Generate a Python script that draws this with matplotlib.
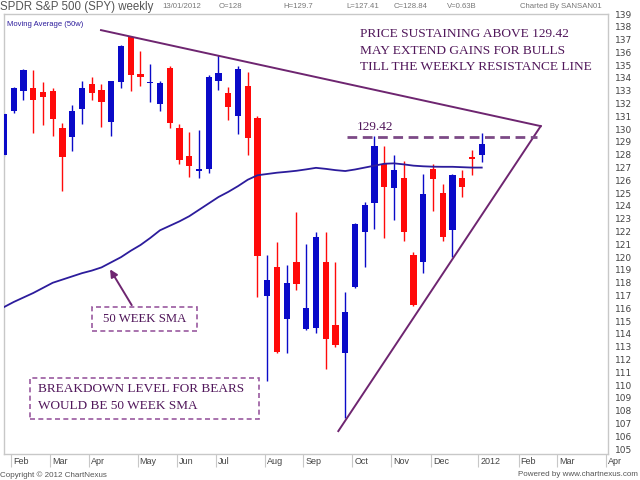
import matplotlib
matplotlib.use("Agg")
import matplotlib.pyplot as plt
from matplotlib.patches import Rectangle
import numpy as np

# weekly OHLC, SPY, Feb 2011 .. 13 Jan 2012
opens = [128.0, 131.4, 133.0, 133.2, 132.9, 133.0, 130.1, 129.4, 131.6, 133.5,
         133.1, 130.6, 133.7, 137.2, 134.3, 133.6, 132.0, 134.8, 130.1, 127.9,
         126.7, 126.9, 133.8, 132.8, 131.0, 133.4, 130.9, 117.0, 119.2, 115.2,
         119.6, 114.4, 114.5, 119.6, 114.7, 112.5, 117.7, 122.0, 124.2, 127.3,
         125.4, 126.2, 120.2, 119.6, 126.9, 125.0, 122.1, 126.2, 127.8, 128.0]
highs = [131.3, 133.3, 134.7, 134.6, 133.7, 133.2, 130.5, 131.9, 133.8, 134.1,
         133.5, 133.8, 136.6, 137.3, 136.1, 135.1, 133.8, 134.9, 130.4, 129.8,
         129.9, 134.2, 135.8, 133.3, 134.9, 134.5, 131.0, 120.2, 121.2, 119.4,
         123.5, 121.0, 122.0, 122.0, 119.6, 117.3, 122.7, 124.3, 129.5, 128.7,
         128.0, 127.5, 120.4, 126.5, 127.3, 125.7, 126.5, 126.8, 128.4, 129.7]
lows = [127.9, 131.3, 132.3, 129.7, 130.3, 129.5, 125.2, 128.3, 130.4, 132.3,
        130.2, 129.5, 133.2, 133.0, 133.4, 132.1, 131.4, 130.1, 127.3, 126.3,
        126.2, 126.6, 133.1, 130.7, 129.6, 128.0, 116.9, 110.3, 112.5, 112.5,
        117.4, 114.3, 114.05, 111.3, 113.0, 107.4, 117.6, 119.2, 122.2, 121.5,
        122.9, 121.3, 116.2, 118.8, 123.6, 121.3, 120.0, 124.7, 126.4, 127.41]
closes = [131.2, 133.2, 134.6, 132.3, 132.5, 130.8, 127.8, 131.4, 133.2, 132.8,
          132.1, 133.8, 136.5, 134.2, 134.1, 133.7, 133.6, 130.5, 127.6, 127.1,
          126.9, 134.1, 134.4, 131.7, 134.7, 129.3, 120.1, 118.2, 112.6, 118.0,
          117.9, 116.0, 121.6, 113.6, 113.1, 115.7, 122.6, 124.1, 128.7, 125.5,
          126.8, 122.0, 116.3, 124.9, 126.1, 121.6, 126.4, 125.5, 127.7, 128.84]
sma50 = [116.1, 116.5, 116.85, 117.2, 117.6, 118.0, 118.25, 118.5, 118.75, 118.95,
         119.2, 119.6, 120.0, 120.5, 120.95, 121.5, 122.1, 122.45, 122.8, 123.2,
         123.7, 124.2, 124.7, 125.1, 125.55, 126.05, 126.4, 126.5, 126.6, 126.67,
         126.75, 126.86, 126.98, 126.9, 126.8, 126.73, 126.85, 127.0, 127.15, 127.3,
         127.33, 127.25, 127.15, 127.1, 127.07, 127.06, 127.06, 127.03, 127.0, 127.0]

month_labels = ["Feb", "Mar", "Apr", "May", "Jun", "Jul", "Aug", "Sep",
                "Oct", "Nov", "Dec", "2012", "Feb", "Mar", "Apr"]
month_pos = [0.72, 4.72, 8.75, 13.72, 17.72, 21.75, 26.73, 30.7,
             35.73, 39.7, 43.8, 48.65, 52.8, 56.7, 61.7]
price_ticks = list(range(105, 140))

level = 129.42

BLUE = "#0a0ac8"
RED = "#ff0a0a"
PURPLE = "#6e2570"
TXT = "#50165a"
BOXC = "#9a5aa0"

fig = plt.figure(figsize=(6.4, 4.8), dpi=100)
ax = fig.add_axes([4 / 640, 1 - 454 / 480, 604 / 640, 440 / 480])

x = np.arange(len(opens))
o = np.array(opens)
c = np.array(closes)
up = c >= o
colors = np.where(up, BLUE, RED)
ax.vlines(x, lows, highs, colors=colors, linewidth=1.0, zorder=2)
ax.bar(x, np.abs(c - o).clip(min=0.12), bottom=np.minimum(o, c), width=0.66,
       color=colors, linewidth=0, zorder=3)
ax.plot(x, sma50, color="#2c1c9c", linewidth=1.3, zorder=4)

# resistance / support lines of the triangle
ax.plot([9.95, 55.05], [137.74, 130.24], color=PURPLE, linewidth=1.4, zorder=5)
ax.plot([34.29, 55.05], [106.41, 130.24], color=PURPLE, linewidth=1.4, zorder=5)
ax.plot([35.15, 54.64], [level, level], color="#7c4a86", linewidth=2.0,
        linestyle=(0, (3.5, 2)), zorder=5)
ax.text(36.2, 130.2, f"{level:.2f}", color=TXT, fontsize=9.5,
        family="Liberation Serif", va="center", ha="left")

note = ["PRICE SUSTAINING ABOVE 129.42",
        "MAY EXTEND GAINS FOR BULLS",
        "TILL THE WEEKLY RESISTANCE LINE"]
for txt, yy in zip(note, [137.43, 136.12, 134.83]):
    ax.text(36.5, yy, txt, color=TXT, fontsize=9.6, family="Liberation Serif",
            va="center", ha="left")

# 50 week SMA callout
ax.add_patch(Rectangle((9.06, 114.25), 10.71, 1.88, fill=False, edgecolor=BOXC,
                       linestyle=(0, (3, 2)), linewidth=1.2, zorder=5))
ax.text(14.4, 115.17, "50 WEEK SMA", color=TXT, fontsize=9.2,
        family="Liberation Serif", va="center", ha="center")
ax.annotate("", xy=(10.88, 119.05), xytext=(13.1, 116.25),
            arrowprops=dict(arrowstyle="-|>", color=PURPLE, lw=1.4,
                            mutation_scale=11, shrinkA=0, shrinkB=0))

ax.add_patch(Rectangle((2.67, 107.35), 23.49, 3.23, fill=False, edgecolor=BOXC,
                       linestyle=(0, (3, 2)), linewidth=1.2, zorder=5))
ax.text(3.46, 109.67, "BREAKDOWN LEVEL FOR BEARS", color=TXT, fontsize=9.5,
        family="Liberation Serif", va="center", ha="left")
ax.text(3.46, 108.39, "WOULD BE 50 WEEK SMA", color=TXT, fontsize=9.5,
        family="Liberation Serif", va="center", ha="left")

ax.set_xlim(0.0, 61.95)
ax.set_ylim(104.62, 139.0)
for sp in ax.spines.values():
    sp.set_color("#c8c8c8")
    sp.set_linewidth(1.0)

ax.yaxis.tick_right()
ax.set_yticks(price_ticks)
ax.tick_params(axis="y", length=0, pad=5, labelsize=6.5, labelcolor="#444444")
ax.set_xticks(month_pos)
ax.set_xticklabels([])
ax.tick_params(axis="x", length=9, width=0.8, color="#c8c8c8")
for lab, pos in zip(month_labels, month_pos):
    ax.text(pos + 0.2, -0.018, lab, transform=ax.get_xaxis_transform(),
            fontsize=6.5, color="#444444", family="Liberation Sans",
            va="center", ha="left")

ax.text(0.005, 0.985, "Moving Average (50w)", transform=ax.transAxes,
        fontsize=5.5, color="#2c1c9c", family="Liberation Sans",
        va="top", ha="left")

# header / footer
fig.text(0 / 640, 1 - 7 / 480, "SPDR S&P 500 (SPY) weekly", fontsize=8.3,
         color="#555555", family="Liberation Sans", va="center", ha="left")
head = [("13/01/2012", 162), ("O=128", 219), ("H=129.7", 283),
        ("L=127.41", 346), ("C=128.84", 394), ("V=0.63B", 447),
        ("Charted By SANSAN01", 520)]
for txt, px in head:
    fig.text(px / 640, 1 - 7 / 480, txt, fontsize=5.6, color="#777777",
             family="Liberation Sans", va="center", ha="left")
fig.text(0 / 640, 1 - 475 / 480, "Copyright \u00a9 2012 ChartNexus", fontsize=5.8,
         color="#555555", family="Liberation Sans", va="center", ha="left")
fig.text(638 / 640, 1 - 475 / 480, "Powered by www.chartnexus.com", fontsize=5.8,
         color="#555555", family="Liberation Sans", va="center", ha="right")

fig.savefig("out.png", dpi=100)
